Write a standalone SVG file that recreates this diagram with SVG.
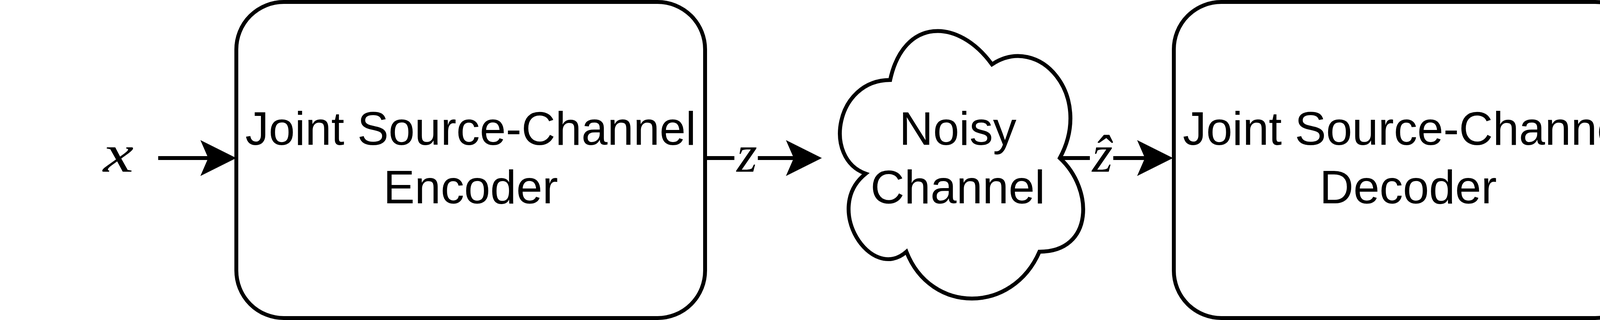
<svg xmlns="http://www.w3.org/2000/svg" width="4910" height="820" viewBox="0 0 4910 820">
  <style>
    .shape { fill: #ffffff; stroke: #000000; stroke-width: 10; }
    .lbl { font-family: "Liberation Sans", Arial, sans-serif; font-size: 120px; fill: #000000; text-anchor: middle; }
    .math { font-family: "Liberation Serif", "Times New Roman", serif; font-style: italic; font-size: 135px; fill: #000000; text-anchor: middle; }
    .edge { fill: none; stroke: #000000; stroke-width: 10; }
    .lblbg { fill: #ffffff; stroke: none; }
  </style>
  <defs>
    <marker id="arrow" viewBox="0 0 92 92" refX="20" refY="46" markerWidth="92" markerHeight="92" markerUnits="userSpaceOnUse" orient="auto">
      <path d="M0,0 L92,46 L0,92 L20,46 Z" fill="#000000"/>
    </marker>
  </defs>
  <rect x="0" y="0" width="4910" height="820" fill="#ffffff"/>

  <g id="input-label">
    <text class="math" x="233.1" y="440" transform="scale(1.3,1)">x</text>
  </g>

  <g id="encoder">
    <rect class="shape" x="605" y="5" width="1200" height="810" rx="121.5" ry="121.5"/>
    <text class="lbl" x="1205" y="371">Joint Source-Channel</text>
    <text class="lbl" x="1205" y="521">Encoder</text>
  </g>

  <g id="channel">
    <path class="shape" d="M2278.75,205 C2139.75,205 2105,405 2216.2,445 C2105,533 2230.1,725 2320.45,645 C2383,805 2591.5,805 2661,645 C2800,645 2800,485 2713.1,405 C2800,245 2661,85 2539.4,165 C2452.5,45 2313.5,45 2278.75,205 Z"/>
    <text class="lbl" x="2452" y="371">Noisy</text>
    <text class="lbl" x="2452" y="521">Channel</text>
  </g>

  <g id="decoder">
    <rect class="shape" x="3005" y="5" width="1200" height="810" rx="121.5" ry="121.5"/>
    <text class="lbl" x="3605" y="371">Joint Source-Channel</text>
    <text class="lbl" x="3605" y="521">Decoder</text>
  </g>

  <g id="output-label">
    <text class="math" x="3463.8" y="440" transform="scale(1.3,1)">x̂</text>
  </g>

  <g id="connectors">
    <path class="edge" d="M405,405 H533" marker-end="url(#arrow)"/>
    <path class="edge" d="M1805,405 H2032" marker-end="url(#arrow)"/>
    <rect class="lblbg" x="1880" y="365" width="60" height="80"/>
    <text class="math" x="1912" y="440">z</text>
    <path class="edge" d="M2713,405 H2931" marker-end="url(#arrow)"/>
    <rect class="lblbg" x="2790" y="345" width="60" height="100"/>
    <text class="math" x="2822" y="440">ẑ</text>
    <path class="edge" d="M4205,405 H4332" marker-end="url(#arrow)"/>
  </g>
</svg>
